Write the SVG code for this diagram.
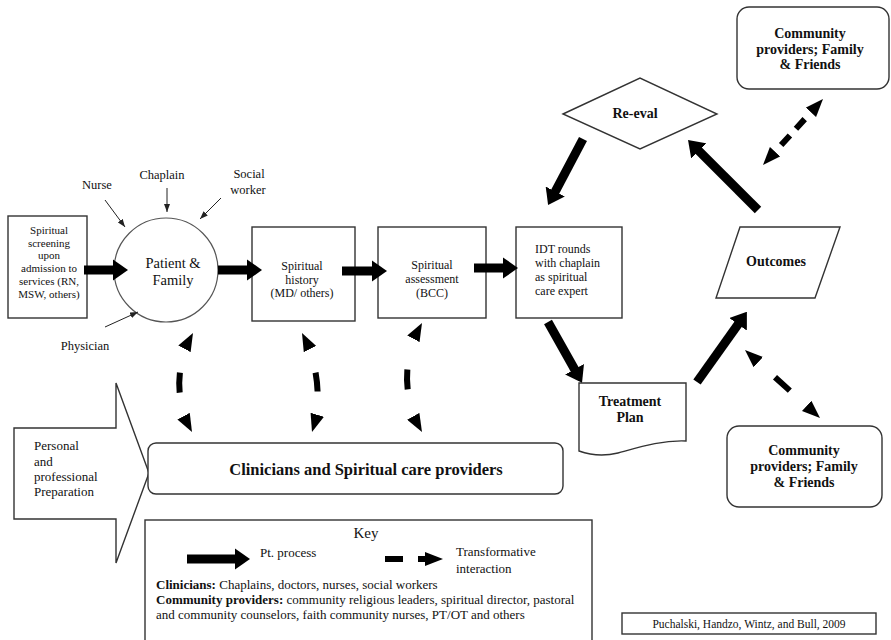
<svg xmlns="http://www.w3.org/2000/svg" width="891" height="640" viewBox="0 0 891 640">
<defs>
<style>
text{font-family:"Liberation Serif","Times New Roman",serif;fill:#111}
.t12{font-size:12px}
.t13{font-size:13px}
.b14{font-size:14px;font-weight:bold}
.box{fill:#fff;stroke:#333;stroke-width:1.4}
.proc{stroke:#000;stroke-width:9;fill:none;marker-end:url(#ph)}
.trans{stroke:#000;stroke-width:6;fill:none;marker-start:url(#dh);marker-end:url(#dh)}
.thin{stroke:#222;stroke-width:1;fill:none;marker-end:url(#th)}
</style>
<marker id="ph" viewBox="0 0 10 10" refX="3" refY="5" markerWidth="1.7" markerHeight="2.4" markerUnits="strokeWidth" orient="auto" preserveAspectRatio="none"><path d="M0,0 L10,5 L0,10 z" fill="#000"/></marker>
<marker id="dh" viewBox="0 0 18 14" refX="18" refY="7" markerWidth="18" markerHeight="14" markerUnits="userSpaceOnUse" orient="auto-start-reverse"><path d="M0,0 L18,7 L0,14 z" fill="#000"/></marker>
<marker id="th" viewBox="0 0 8 6" refX="8" refY="3" markerWidth="8" markerHeight="6" markerUnits="userSpaceOnUse" orient="auto"><path d="M0,0 L8,3 L0,6 z" fill="#222"/></marker>
</defs>
<rect width="891" height="640" fill="#fff"/>

<g id="preparation">
<polygon class="box" points="14,428 116,428 116,383 149,473 116,563 116,519 14,519"/>
<text class="t13" x="34" y="450">Personal</text>
<text class="t13" x="34" y="466">and</text>
<text class="t13" x="34" y="481">professional</text>
<text class="t13" x="34" y="496">Preparation</text>
</g>

<g id="screening">
<rect class="box" x="8" y="216" width="79" height="102"/>
<text font-size="11" text-anchor="middle"><tspan x="49" y="234">Spiritual</tspan><tspan x="49" y="246.7">screening</tspan><tspan x="49" y="259.4">upon</tspan><tspan x="49" y="272.1">admission to</tspan><tspan x="49" y="284.8">services (RN,</tspan><tspan x="49" y="297.5">MSW, others)</tspan></text>
</g>

<g id="patient">
<circle cx="166" cy="270" r="52" fill="#fff" stroke="#555" stroke-width="1.2"/>
<text x="173" y="268" text-anchor="middle" font-size="14.5">Patient &amp;</text>
<text x="173" y="285" text-anchor="middle" font-size="14.5">Family</text>
</g>

<g id="nurse"><text x="97" y="189" text-anchor="middle" font-size="12.5">Nurse</text></g>
<g id="chaplain"><text x="162" y="179" text-anchor="middle" font-size="12.5">Chaplain</text></g>
<g id="social"><text x="249" y="178" text-anchor="middle" font-size="12.5">Social</text><text x="248" y="194" text-anchor="middle" font-size="12.5">worker</text></g>
<g id="physician"><text x="85" y="350" text-anchor="middle" font-size="12.5">Physician</text></g>

<g id="history">
<rect class="box" x="252" y="227" width="103" height="94"/>
<text class="t12" text-anchor="middle"><tspan x="302" y="270">Spiritual</tspan><tspan x="302" y="284">history</tspan><tspan x="302" y="297">(MD/ others)</tspan></text>
</g>

<g id="assessment">
<rect class="box" x="378" y="227" width="108" height="91"/>
<text class="t12" text-anchor="middle"><tspan x="432" y="269">Spiritual</tspan><tspan x="432" y="283">assessment</tspan><tspan x="432" y="297">(BCC)</tspan></text>
</g>

<g id="idt">
<rect class="box" x="516" y="227" width="106" height="91"/>
<text class="t12"><tspan x="535" y="253">IDT rounds</tspan><tspan x="535" y="267">with chaplain</tspan><tspan x="535" y="281">as spiritual</tspan><tspan x="535" y="295">care expert</tspan></text>
</g>

<g id="reeval">
<polygon class="box" points="563,114 640,78 717,114 640,149"/>
<text class="b14" x="635" y="118" text-anchor="middle">Re-eval</text>
</g>

<g id="outcomes">
<polygon class="box" points="740,227 840,227 815,298 716,298"/>
<text class="b14" x="776" y="266" text-anchor="middle">Outcomes</text>
</g>

<g id="treatment">
<path class="box" d="M579,383 L686,383 L686,441 C662,440 640,447 618,453 C602,457 590,455 579,451 Z"/>
<text class="b14" x="630" y="406" text-anchor="middle">Treatment</text>
<text class="b14" x="630" y="422" text-anchor="middle">Plan</text>
</g>

<g id="community-top">
<rect class="box" x="737" y="7" width="152" height="82" rx="12"/>
<text class="b14" text-anchor="middle"><tspan x="810" y="38">Community</tspan><tspan x="810" y="54">providers; Family</tspan><tspan x="810" y="69">&amp; Friends</tspan></text>
</g>

<g id="community-bottom">
<rect class="box" x="727" y="426" width="155" height="81" rx="12"/>
<text class="b14" text-anchor="middle"><tspan x="804" y="455">Community</tspan><tspan x="804" y="471">providers; Family</tspan><tspan x="804" y="487">&amp; Friends</tspan></text>
</g>

<g id="clinicians">
<rect class="box" x="148" y="443" width="415" height="51" rx="8"/>
<text x="366" y="475" text-anchor="middle" font-size="16.5" font-weight="bold">Clinicians and Spiritual care providers</text>
</g>

<g id="key">
<rect class="box" x="145" y="520" width="447" height="130"/>
<text x="366" y="538" text-anchor="middle" font-size="15">Key</text>
<path class="proc" d="M187,559 L239.3,559"/>
<text class="t13" x="260" y="557">Pt. process</text>
<path d="M385,559 L403,559" stroke="#000" stroke-width="6"/>
<path d="M418,559 L443,559" stroke="#000" stroke-width="6" stroke-dasharray="12 100" marker-end="url(#dh)"/>
<text class="t13" x="456" y="556">Transformative</text>
<text class="t13" x="456" y="573">interaction</text>
<text font-size="13" x="156" y="589"><tspan font-weight="bold">Clinicians:</tspan> Chaplains, doctors, nurses, social workers</text>
<text font-size="13" x="156" y="604"><tspan font-weight="bold">Community providers:</tspan> community religious leaders, spiritual director, pastoral</text>
<text font-size="13" x="156" y="619">and community counselors, faith community nurses, PT/OT and others</text>
</g>

<g id="citation">
<rect class="box" x="622" y="613" width="254" height="21"/>
<text x="749" y="628" text-anchor="middle" font-size="11.5">Puchalski, Handzo, Wintz, and Bull, 2009</text>
</g>

<g id="connectors">
<path class="thin" d="M105,200 L125,227"/>
<path class="thin" d="M167,188 L167,212"/>
<path class="thin" d="M221,198 L200,219"/>
<path class="thin" d="M105,327 L138,312"/>
<path class="proc" d="M84,270 L117.3,270"/>
<path class="proc" d="M218,270 L251.3,270"/>
<path class="proc" d="M342,271 L376.3,271"/>
<path class="proc" d="M474,268 L507.3,268"/>
<path class="proc" d="M548,322 L576.8,373.3"/>
<path class="proc" d="M697,382 L740.7,320.6"/>
<path class="proc" d="M758,210 L695.6,147.6"/>
<path class="proc" d="M583,139 L553.1,195.6"/>
<path class="trans" d="M193,333 Q166,383 192,432" stroke-dasharray="0 42 20 60"/>
<path class="trans" d="M302,333 Q327,383 312,432" stroke-dasharray="0 42 19 60"/>
<path class="trans" d="M422,323 Q392,378 422,432" stroke-dasharray="0 49 20 60"/>
<path class="trans" d="M763,165 L823,99" stroke-dasharray="0 27 13 9 13 40"/>
<path class="trans" d="M745,350 L820,418" stroke-dasharray="0 40.5 20 50"/>
</g>
</svg>
